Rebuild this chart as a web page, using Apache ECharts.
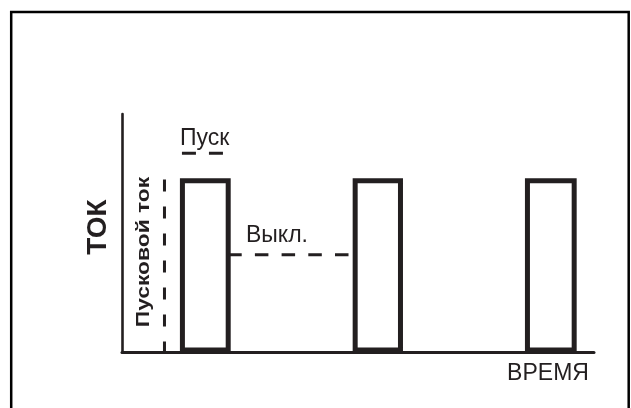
<!DOCTYPE html>
<html><head><meta charset="utf-8">
<script src="https://cdn.jsdelivr.net/npm/echarts@6/dist/echarts.min.js"></script>
<style>html,body{margin:0;padding:0;background:#fff}#c{width:631px;height:408px}</style>
</head><body><div id="c"></div>
<script>
// ---- data ----
const timeRange = [0, 100];
const currentRange = [0, 100];
const pulseStart = [12.8, 49.4, 85.9];
const pulseEnd = [22.5, 59.0, 95.8];
const pulseTop = [72, 72, 72];
const pulseBase = [1, 1, 1];
const startLineX = [9, 9];
const startLineY = [72.5, 0];
const offLineX = [22.5, 48];
const offLineY = [41, 41];
const startMarkX = [12.7, 21.4];
const startMarkY = [83.5, 83.5];
const labelY = 'ТОК';
const labelX = 'ВРЕМЯ';
const labelStartCurrent = 'Пусковой ток';
const labelStart = 'Пуск';
const labelOff = 'Выкл.';

const INK = '#231f20';
const pulses = pulseStart.map((s, i) => [s, pulseEnd[i], pulseTop[i], pulseBase[i]]);
const zip = (a, b) => a.map((v, i) => [v, b[i]]);

const chart = echarts.init(document.getElementById('c'), null, {renderer: 'canvas'});
chart.setOption({
  backgroundColor: '#fff',
  animation: false,
  grid: {left: 122, top: 114, width: 472, height: 238.5, containLabel: false},
  xAxis: {type: 'value', min: timeRange[0], max: timeRange[1],
    axisLine: {show: true, lineStyle: {color: INK, width: 3}},
    axisTick: {show: false}, axisLabel: {show: false}, splitLine: {show: false}},
  yAxis: {type: 'value', min: currentRange[0], max: currentRange[1],
    axisLine: {show: true, lineStyle: {color: INK, width: 2.6}},
    axisTick: {show: false}, axisLabel: {show: false}, splitLine: {show: false}},
  series: [
    {type: 'custom', clip: false, data: pulses,
      renderItem: (params, api) => {
        const p0 = api.coord([api.value(0), api.value(2)]);
        const p1 = api.coord([api.value(1), api.value(3)]);
        return {type: 'rect', shape: {x: p0[0], y: p0[1], width: p1[0] - p0[0], height: p1[1] - p0[1]},
          style: {fill: 'none', stroke: INK, lineWidth: 5, lineJoin: 'miter'}};
      }},
    {type: 'line', data: zip(startLineX, startLineY), symbol: 'none', clip: false,
      lineStyle: {color: INK, width: 3, type: [12, 15], cap: 'butt'}},
    {type: 'line', data: zip(offLineX, offLineY), symbol: 'none', clip: false,
      lineStyle: {color: INK, width: 3, type: [13.5, 13.2], cap: 'butt'}},
    {type: 'line', data: zip(startMarkX, startMarkY), symbol: 'none', clip: false,
      lineStyle: {color: INK, width: 3, type: [14, 13], cap: 'butt'}}
  ],
  graphic: [
    {type: 'rect', shape: {x: 11.2, y: 12, width: 617.5, height: 420}, silent: true,
      style: {fill: 'none', stroke: '#000', lineWidth: 2.5}},
    {type: 'text', x: 98, y: 227, rotation: Math.PI / 2,
      style: {text: labelY, font: 'bold 28px "Liberation Sans", Arial, sans-serif', fill: INK, textAlign: 'center', textVerticalAlign: 'middle'}},
    {type: 'text', x: 143.5, y: 252, rotation: Math.PI / 2, scaleX: 1.2,
      style: {text: labelStartCurrent, font: 'bold 19px "Liberation Sans", Arial, sans-serif', fill: INK, textAlign: 'center', textVerticalAlign: 'middle'}},
    {type: 'text', x: 180, y: 139,
      style: {text: labelStart, font: '23px "Liberation Sans", Arial, sans-serif', fill: INK, textAlign: 'left', textVerticalAlign: 'middle'}},
    {type: 'text', x: 246, y: 235.5,
      style: {text: labelOff, font: '23px "Liberation Sans", Arial, sans-serif', fill: INK, textAlign: 'left', textVerticalAlign: 'middle'}},
    {type: 'text', x: 548, y: 373.5,
      style: {text: labelX, font: '23px "Liberation Sans", Arial, sans-serif', fill: INK, textAlign: 'center', textVerticalAlign: 'middle'}}
  ]
});
</script></body></html>
